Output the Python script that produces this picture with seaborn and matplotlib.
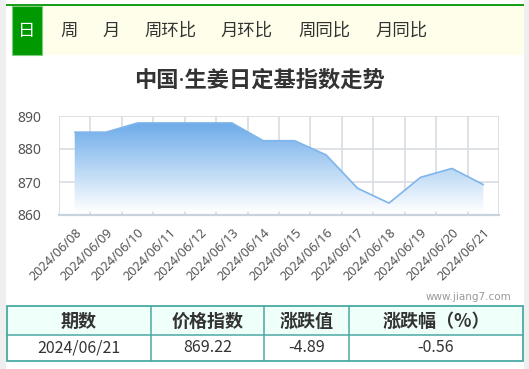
import numpy as np
import pandas as pd
import matplotlib
matplotlib.use("Agg")
import matplotlib.pyplot as plt
import seaborn as sns
from matplotlib.patches import Rectangle, Polygon
from matplotlib.colors import LinearSegmentedColormap

sns.set_theme(style="white")
plt.rcParams['font.family'] = ['Noto Sans CJK SC', 'DejaVu Sans']

# ---- data ----
dates = ["2024/06/08", "2024/06/09", "2024/06/10", "2024/06/11", "2024/06/12",
         "2024/06/13", "2024/06/14", "2024/06/15", "2024/06/16", "2024/06/17",
         "2024/06/18", "2024/06/19", "2024/06/20", "2024/06/21"]
values = [885.1, 885.1, 887.9, 887.9, 887.9, 887.9, 882.5, 882.5, 878.2,
          868.1, 863.6, 871.4, 874.11, 869.22]
y_ticks = [860, 870, 880, 890]
tabs = ["日", "周", "月", "周环比", "月环比", "周同比", "月同比"]
title = "中国·生姜日定基指数走势"
table_header = ["期数", "价格指数", "涨跌值", "涨跌幅（%）"]
table_row = ["2024/06/21", "869.22", "-4.89", "-0.56"]
watermark = "www.jiang7.com"

df = pd.DataFrame({"date": dates, "value": values, "pos": np.arange(len(dates))})

W, H = 529, 369
fig = plt.figure(figsize=(W / 100, H / 100), dpi=100)
fig.patch.set_facecolor("white")

# background overlay axes
bg = fig.add_axes([0, 0, 1, 1])
bg.set_xlim(0, W)
bg.set_ylim(H, 0)
bg.axis("off")
bg.add_patch(Rectangle((0, 0), 6, H, color="#efefef", lw=0))
bg.add_patch(Rectangle((523.5, 0), 6, H, color="#efefef", lw=0))
bg.add_patch(Rectangle((12, 6), 511.5, 49, color="#fefeea", lw=0))
bg.add_patch(Rectangle((6, 3.5), 517.5, 2.5, color="#1a9e1a", lw=0))
bg.add_patch(Rectangle((12, 6), 30, 49, facecolor="#009900", edgecolor="#7ccf7c", lw=0.8))
tab_x = [27, 69, 111, 170, 247, 324, 402]
for i, (t, x) in enumerate(zip(tabs, tab_x)):
    bg.text(x, 31, t, ha="center", va="center", fontsize=12.5,
            color="white" if i == 0 else "#333333")
bg.text(259, 81, title, ha="center", va="center", fontsize=16, fontweight="bold",
        color="#333333", family=["Noto Sans", "Noto Sans CJK SC"])
bg.text(511, 297, watermark, ha="right", va="center", fontsize=7.5, color="#999999",
        family=["DejaVu Sans"])

# table
tc = "#4aa9a4"
bg.add_patch(Rectangle((6.5, 306), 516.5, 29, facecolor="#effffa", edgecolor="none"))
bg.add_patch(Rectangle((6.5, 306), 516.5, 55, facecolor="none", edgecolor=tc, lw=1.3))
bg.plot([6.5, 523], [335, 335], color=tc, lw=1.1)
col_edges = [6.5, 151, 264, 349, 523]
for xe in col_edges[1:-1]:
    bg.plot([xe, xe], [306, 361], color=tc, lw=1.1)
for i in range(4):
    cx = (col_edges[i] + col_edges[i + 1]) / 2
    bg.text(cx, 321, table_header[i], ha="center", va="center", fontsize=13,
            fontweight="bold", color="#333333")
    bg.text(cx, 348, table_row[i], ha="center", va="center", fontsize=11.5,
            color="#333333")

# chart axes
x0, x1, y0, y1 = 59, 499, 116, 215
ax = fig.add_axes([x0 / W, 1 - y1 / H, (x1 - x0) / W, (y1 - y0) / H])
ax.set_facecolor("none")
n = len(dates)
ax.set_xlim(-0.5, n - 0.5)
ax.set_ylim(860, 890)

# gradient fill
base = 861
verts = [(0, base)] + list(zip(df["pos"], df["value"])) + [(n - 1, base)]
poly = Polygon(verts, closed=True, facecolor="none", edgecolor="none")
ax.add_patch(poly)
grad = np.linspace(0, 1, 256).reshape(-1, 1)
cmap = LinearSegmentedColormap.from_list("g", ["#ffffff", "#6aaae9"])
im = ax.imshow(grad, aspect="auto", cmap=cmap, origin="lower",
               extent=[-0.5, n - 0.5, base, 888.5], zorder=1)
im.set_clip_path(poly)

sns.lineplot(data=df, x="pos", y="value", ax=ax, color="#7fb5ea", lw=1.2, zorder=3)

ax.set_xlabel("")
ax.set_ylabel("")
ax.set_yticks(y_ticks)
ax.set_yticklabels([str(v) for v in y_ticks], fontsize=10, color="#555555",
                   family=["Noto Sans"])
ax.set_xticks(df["pos"])
ax.set_xticklabels(dates, rotation=45, ha="right", rotation_mode="anchor",
                   fontsize=9.2, color="#555555", family=["Noto Sans"])
ax.set_xticks(np.arange(-0.5, n, 1), minor=True)
ax.tick_params(axis="x", which="major", length=0, pad=8)
ax.tick_params(axis="x", which="minor", length=8.6, width=1.2, color="#d8dde3",
               direction="out")
ax.tick_params(axis="y", length=0, pad=13)
ax.grid(which="minor", axis="x", color="#d8dde3", lw=1.2, zorder=0)
ax.grid(which="major", axis="y", color="#d8dde3", lw=1.2, zorder=0)
for s in ["top", "left", "right"]:
    ax.spines[s].set_visible(False)
ax.spines["bottom"].set_color("#c8d2dc")
ax.spines["bottom"].set_linewidth(1.6)
ax.set_axisbelow(True)

fig.savefig("out.png", dpi=100)
